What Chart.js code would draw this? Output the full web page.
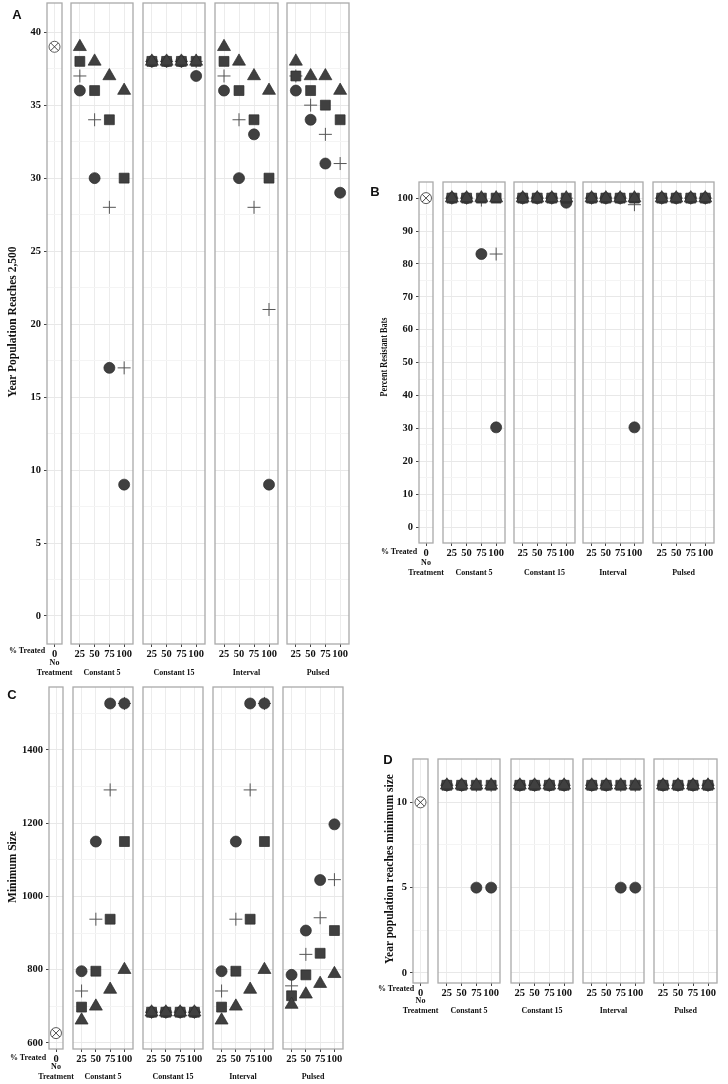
<!DOCTYPE html>
<html>
<head>
<meta charset="utf-8">
<script src="https://cdn.jsdelivr.net/npm/chart.js@4.4.0/dist/chart.umd.min.js"></script>
<style>
  body { margin: 0; width: 728px; height: 1084px; position: relative; background: #fff; overflow: hidden; }
  canvas { position: absolute; }
  .lbl { position: absolute; font-family: 'Liberation Serif', 'Times New Roman', serif; font-weight: bold;
         white-space: nowrap; color: #111; line-height: 1; }
</style>
</head>
<body>
<script>
// categories
const treated = [25, 50, 75, 100];
const facetNames = ['Constant 5', 'Constant 15', 'Interval', 'Pulsed'];

// A - year population reaches 2,500 (rows = facets, cols = % treated)
const yearA_noTreat = 39;
const yearA_circle   = [[36, 30, 17, 9],  [38, 38, 38, 37], [36, 30, 33, 9],  [36, 34, 31, 29]];
const yearA_triangle = [[39, 38, 37, 36], [38, 38, 38, 38], [39, 38, 37, 36], [38, 37, 37, 36]];
const yearA_square   = [[38, 36, 34, 30], [38, 38, 38, 38], [38, 36, 34, 30], [37, 36, 35, 34]];
const yearA_plus     = [[37, 34, 28, 17], [38, 38, 38, 38], [37, 34, 28, 21], [37, 35, 33, 31]];
const ticksA = [0, 5, 10, 15, 20, 25, 30, 35, 40];
const minorA = [2.5, 7.5, 12.5, 17.5, 22.5, 27.5, 32.5, 37.5];

// B - percent resistant bats
const pctB_noTreat = 100;
const pctB_circle   = [[100, 100, 83, 30.3], [100, 100, 100, 98.6], [100, 100, 100, 30.3], [100, 100, 100, 100]];
const pctB_triangle = [[100, 100, 100, 100], [100, 100, 100, 100], [100, 100, 100, 100], [100, 100, 100, 100]];
const pctB_square   = [[100, 100, 100, 100], [100, 100, 100, 100], [100, 100, 100, 100], [100, 100, 100, 100]];
const pctB_plus     = [[100, 100, 99.4, 83], [100, 100, 100, 100], [100, 100, 100, 98], [100, 100, 100, 100]];
const ticksB = [0, 10, 20, 30, 40, 50, 60, 70, 80, 90, 100];
const minorB = [5, 15, 25, 35, 45, 55, 65, 75, 85, 95];

// C - minimum size
const minC_noTreat = 627;
const minC_circle   = [[796, 1150, 1527, 1527], [684, 684, 684, 684], [796, 1150, 1527, 1527], [786, 907, 1045, 1197]];
const minC_triangle = [[662, 700, 746, 800],    [684, 684, 684, 684], [662, 700, 746, 800],    [705, 733, 762, 789]];
const minC_square   = [[698, 796, 938, 1150],   [684, 684, 684, 684], [698, 796, 938, 1150],   [729, 786, 845, 907]];
const minC_plus     = [[742, 938, 1291, 1527],  [684, 684, 684, 684], [742, 938, 1291, 1527],  [756, 842, 942, 1046]];
const ticksC = [600, 800, 1000, 1200, 1400];
const minorC = [700, 900, 1100, 1300, 1500];

// D - year population reaches minimum size
const yearD_noTreat = 10;
const yearD_circle   = [[11, 11, 5, 5],   [11, 11, 11, 11], [11, 11, 5, 5],   [11, 11, 11, 11]];
const yearD_triangle = [[11, 11, 11, 11], [11, 11, 11, 11], [11, 11, 11, 11], [11, 11, 11, 11]];
const yearD_square   = [[11, 11, 11, 11], [11, 11, 11, 11], [11, 11, 11, 11], [11, 11, 11, 11]];
const yearD_plus     = [[11, 11, 11, 11], [11, 11, 11, 11], [11, 11, 11, 11], [11, 11, 11, 11]];
const ticksD = [0, 5, 10];
const minorD = [2.5, 7.5];

Chart.defaults.font.family = "'Liberation Serif', 'Times New Roman', serif";
Chart.defaults.font.weight = 'bold';
Chart.defaults.color = '#111';

const panels = [
  { letter: 'A', letterAt: [17, 14], title: 'Year Population Reaches 2,500', titleAt: [13, 322], titleSize: 11.5,
    treatedAt: [27, 651], top: 3, bottom: 644, xH: 34, yMin: -1.92, yMax: 42,
    boxes: [[47, 62], [71, 133], [143, 205], [215, 278], [287, 349]],
    major: ticksA, minor: minorA, noTreat: yearA_noTreat,
    circle: yearA_circle, triangle: yearA_triangle, square: yearA_square, plus: yearA_plus },
  { letter: 'B', letterAt: [375, 191], title: 'Percent Resistant Bats', titleAt: [383, 357], titleSize: 11, squeeze: 0.75,
    treatedAt: [399, 552], top: 182, bottom: 543, xH: 35, yMin: -4.86, yMax: 104.9,
    boxes: [[419, 433], [443, 505], [514, 575], [583, 643], [653, 714]],
    major: ticksB, minor: minorB, noTreat: pctB_noTreat,
    circle: pctB_circle, triangle: pctB_triangle, square: pctB_square, plus: pctB_plus },
  { letter: 'C', letterAt: [12, 694], title: 'Minimum Size', titleAt: [13, 867], titleSize: 11.5,
    treatedAt: [28, 1058], top: 687, bottom: 1049, xH: 33, yMin: 583.6, yMax: 1572,
    boxes: [[49, 63], [73, 133], [143, 203], [213, 273], [283, 343]],
    major: ticksC, minor: minorC, noTreat: minC_noTreat,
    circle: minC_circle, triangle: minC_triangle, square: minC_square, plus: minC_plus },
  { letter: 'D', letterAt: [388, 759], title: 'Year population reaches minimum size', titleAt: [390, 869], titleSize: 11.5,
    treatedAt: [396, 989], top: 759, bottom: 983, xH: 33, yMin: -0.59, yMax: 12.54,
    boxes: [[413, 428], [438, 500], [511, 573], [583, 644], [654, 717]],
    major: ticksD, minor: minorD, noTreat: yearD_noTreat,
    circle: yearD_circle, triangle: yearD_triangle, square: yearD_square, plus: yearD_plus }
];

const FILL = '#404040', EDGE = '#2a2a2a';
const shapeStyles = {
  plus:     { pointStyle: 'cross', pointRadius: 6.5, pointBorderColor: '#555', pointBorderWidth: 1 },
  circle:   { pointStyle: 'circle', pointRadius: 5.5, pointBackgroundColor: FILL, pointBorderColor: EDGE, pointBorderWidth: 0.7 },
  square:   { pointStyle: 'rect', pointRadius: 7, pointBackgroundColor: FILL, pointBorderColor: EDGE, pointBorderWidth: 0.7 },
  triangle: { pointStyle: 'triangle', pointRadius: 7.5, pointBackgroundColor: FILL, pointBorderColor: EDGE, pointBorderWidth: 0.7 }
};

// grey facet border
const boxPlugin = {
  id: 'facetBox',
  beforeDatasetsDraw(chart) {
    const { ctx, chartArea: a } = chart;
    ctx.save();
    ctx.strokeStyle = '#aaaaaa';
    ctx.lineWidth = 1.3;
    ctx.strokeRect(a.left, a.top, a.right - a.left, a.bottom - a.top);
    ctx.restore();
  }
};

function label(text, x, y, size, opts = {}) {
  const d = document.createElement('div');
  d.className = 'lbl';
  d.textContent = text;
  d.style.left = x + 'px';
  d.style.top = y + 'px';
  d.style.fontSize = size + 'px';
  let t = 'translate(-50%, -50%)';
  if (opts.rot) t += ' rotate(-90deg)';
  if (opts.sx) t += ' scaleX(' + opts.sx + ')';
  d.style.transform = t;
  if (opts.sans) d.style.fontFamily = "'Liberation Sans', Arial, sans-serif";
  document.body.appendChild(d);
}

const PL = 3, PT = 3, PR = 3;

function facetChart(p, fi) {
  const [bl, br] = p.boxes[fi];
  const first = fi === 0;
  const yW = first ? 36 : 0;
  const xLabels = first ? ['0'] : treated;
  const w = Math.round(PL + yW + (br - bl) + PR);
  const h = Math.round(PT + (p.bottom - p.top) + p.xH);
  const cv = document.createElement('canvas');
  cv.width = w; cv.height = h;
  cv.style.left = (bl - yW - PL) + 'px';
  cv.style.top = (p.top - PT) + 'px';
  cv.style.width = w + 'px';
  cv.style.height = h + 'px';
  document.body.appendChild(cv);

  // Chart.js paints dataset 0 last, so the top-most mark comes first
  let datasets;
  if (first) {
    datasets = [
      { data: [{ x: 1, y: p.noTreat }], pointStyle: 'crossRot', pointRadius: 5.5, pointBorderColor: '#333', pointBorderWidth: 0.9 },
      { data: [{ x: 1, y: p.noTreat }], pointStyle: 'circle', pointRadius: 5.5, pointBackgroundColor: '#fff', pointBorderColor: '#333', pointBorderWidth: 0.8 }
    ];
    // "No Treatment" facet label is wider than the facet, so it is placed as page text
    const cx = (bl + br) / 2;
    label('No', cx, p.bottom + p.xH - 15, 8);
    label('Treatment', cx, p.bottom + p.xH - 5, 8);
  } else {
    datasets = ['triangle', 'square', 'circle', 'plus'].map(s => Object.assign({
      label: s,
      data: treated.map((t, i) => ({ x: i + 1, y: p[s][fi - 1][i] }))
    }, shapeStyles[s]));
  }

  const allY = p.major.concat(p.minor).sort((a, b) => a - b);
  const isMajor = v => p.major.includes(v);

  new Chart(cv, {
    type: 'scatter',
    data: { datasets },
    options: {
      responsive: false,
      animation: false,
      events: [],
      layout: { autoPadding: false, padding: { left: PL, top: PT, right: PR, bottom: 0 } },
      plugins: { legend: { display: false }, tooltip: { enabled: false } },
      scales: {
        x: {
          type: 'linear',
          min: 0.4,
          max: xLabels.length + 0.6,
          afterBuildTicks: s => { s.ticks = xLabels.map((_, i) => ({ value: i + 1 })); },
          afterFit: s => { s.height = p.xH; s.paddingLeft = 0; s.paddingRight = 0; },
          ticks: { callback: (v, i) => xLabels[i], font: { size: 10.5 }, padding: 1, autoSkip: false, maxRotation: 0, color: '#111' },
          grid: { color: '#ececec', lineWidth: 1, tickLength: 3, tickColor: '#444' },
          border: { display: false },
          title: { display: !first, text: first ? '' : facetNames[fi - 1], font: { size: 8, lineHeight: 1.25 }, padding: 0, color: '#111' }
        },
        y: {
          min: p.yMin,
          max: p.yMax,
          afterBuildTicks: s => { s.ticks = allY.map(v => ({ value: v })); },
          afterFit: s => { s.width = yW; s.paddingTop = 0; s.paddingBottom = 0; },
          ticks: { display: first, autoSkip: false, callback: v => isMajor(v) ? String(v) : '', font: { size: 10.5 }, padding: 3, color: '#111' },
          grid: {
            drawTicks: first,
            tickLength: 3,
            color: c => (c.tick && isMajor(c.tick.value)) ? '#e8e8e8' : '#f4f4f4',
            tickColor: c => (c.tick && isMajor(c.tick.value)) ? '#444' : 'rgba(0,0,0,0)'
          },
          border: { display: false }
        }
      }
    },
    plugins: [boxPlugin]
  });
}

panels.forEach(p => {
  p.boxes.forEach((_, fi) => facetChart(p, fi));
  label(p.letter, p.letterAt[0], p.letterAt[1], 13, { sans: true });
  label(p.title, p.titleAt[0], p.titleAt[1], p.titleSize, { rot: true, sx: p.squeeze });
  label('% Treated', p.treatedAt[0], p.treatedAt[1], 8);
});
</script>
</body>
</html>
